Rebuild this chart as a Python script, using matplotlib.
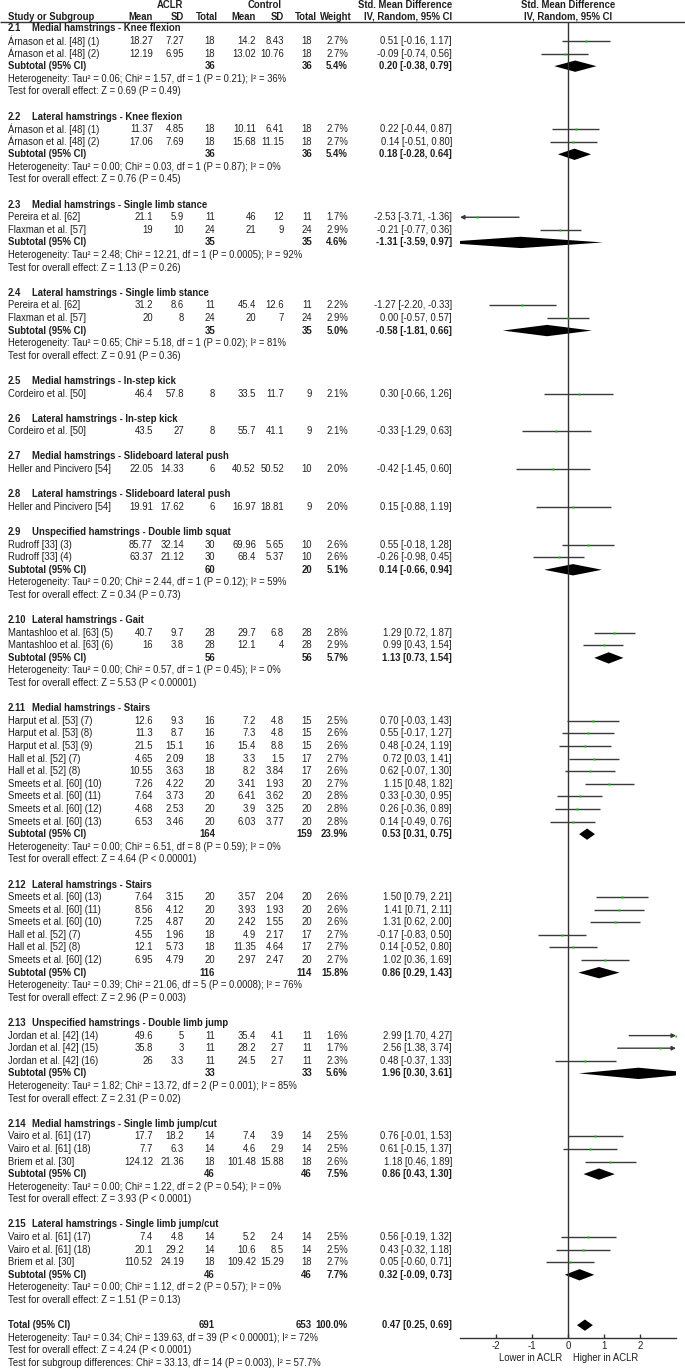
import matplotlib
matplotlib.use("Agg")
import matplotlib.pyplot as plt

plt.rcParams['font.family'] = ['Liberation Sans', 'DejaVu Sans']

# subgroups
group_code = ['2.1', '2.2', '2.3', '2.4', '2.5', '2.6', '2.7', '2.8', '2.9', '2.10',
              '2.11', '2.12', '2.13', '2.14', '2.15']
group_title = ['Medial hamstrings - Knee flexion', 'Lateral hamstrings - Knee flexion',
               'Medial hamstrings - Single limb stance', 'Lateral hamstrings - Single limb stance',
               'Medial hamstrings - In-step kick', 'Lateral hamstrings - In-step kick',
               'Medial hamstrings - Slideboard lateral push', 'Lateral hamstrings - Slideboard lateral push',
               'Unspecified hamstrings - Double limb squat', 'Lateral hamstrings - Gait',
               'Medial hamstrings - Stairs', 'Lateral hamstrings - Stairs',
               'Unspecified hamstrings - Double limb jump', 'Medial hamstrings - Single limb jump/cut',
               'Lateral hamstrings - Single limb jump/cut']

# studies
study_group = [0, 0, 1, 1, 2, 2, 3, 3, 4, 5, 6, 7, 8, 8, 9, 9,
               10, 10, 10, 10, 10, 10, 10, 10, 10,
               11, 11, 11, 11, 11, 11, 12, 12, 12, 13, 13, 13, 14, 14, 14]
study_name = ['Árnason et al. [48] (1)', 'Árnason et al. [48] (2)',
              'Árnason et al. [48] (1)', 'Árnason et al. [48] (2)',
              'Pereira et al. [62]', 'Flaxman et al. [57]',
              'Pereira et al. [62]', 'Flaxman et al. [57]',
              'Cordeiro et al. [50]', 'Cordeiro et al. [50]',
              'Heller and Pincivero [54]', 'Heller and Pincivero [54]',
              'Rudroff [33] (3)', 'Rudroff [33] (4)',
              'Mantashloo et al. [63] (5)', 'Mantashloo et al. [63] (6)',
              'Harput et al. [53] (7)', 'Harput et al. [53] (8)', 'Harput et al. [53] (9)',
              'Hall et al. [52] (7)', 'Hall et al. [52] (8)',
              'Smeets et al. [60] (10)', 'Smeets et al. [60] (11)', 'Smeets et al. [60] (12)',
              'Smeets et al. [60] (13)',
              'Smeets et al. [60] (13)', 'Smeets et al. [60] (11)', 'Smeets et al. [60] (10)',
              'Hall et al. [52] (7)', 'Hall et al. [52] (8)', 'Smeets et al. [60] (12)',
              'Jordan et al. [42] (14)', 'Jordan et al. [42] (15)', 'Jordan et al. [42] (16)',
              'Vairo et al. [61] (17)', 'Vairo et al. [61] (18)', 'Briem et al. [30]',
              'Vairo et al. [61] (17)', 'Vairo et al. [61] (18)', 'Briem et al. [30]']
aclr_mean = ['18.27', '12.19', '11.37', '17.06', '21.1', '19', '31.2', '20', '46.4', '43.5',
             '22.05', '19.91', '85.77', '63.37', '40.7', '16',
             '12.6', '11.3', '21.5', '4.65', '10.55', '7.26', '7.64', '4.68', '6.53',
             '7.64', '8.56', '7.25', '4.55', '12.1', '6.95',
             '49.6', '35.8', '26', '17.7', '7.7', '124.12', '7.4', '20.1', '110.52']
aclr_sd = ['7.27', '6.95', '4.85', '7.69', '5.9', '10', '8.6', '8', '57.8', '27',
           '14.33', '17.62', '32.14', '21.12', '9.7', '3.8',
           '9.3', '8.7', '15.1', '2.09', '3.63', '4.22', '3.73', '2.53', '3.46',
           '3.15', '4.12', '4.87', '1.96', '5.73', '4.79',
           '5', '3', '3.3', '18.2', '6.3', '21.36', '4.8', '29.2', '24.19']
aclr_n = [18, 18, 18, 18, 11, 24, 11, 24, 8, 8, 6, 6, 30, 30, 28, 28,
          16, 16, 16, 18, 18, 20, 20, 20, 20,
          20, 20, 20, 18, 18, 20, 11, 11, 11, 14, 14, 18, 14, 14, 18]
ctrl_mean = ['14.2', '13.02', '10.11', '15.68', '46', '21', '45.4', '20', '33.5', '55.7',
             '40.52', '16.97', '69.96', '68.4', '29.7', '12.1',
             '7.2', '7.3', '15.4', '3.3', '8.2', '3.41', '6.41', '3.9', '6.03',
             '3.57', '3.93', '2.42', '4.9', '11.35', '2.97',
             '35.4', '28.2', '24.5', '7.4', '4.6', '101.48', '5.2', '10.6', '109.42']
ctrl_sd = ['8.43', '10.76', '6.41', '11.15', '12', '9', '12.6', '7', '11.7', '41.1',
           '50.52', '18.81', '5.65', '5.37', '6.8', '4',
           '4.8', '4.8', '8.8', '1.5', '3.84', '1.93', '3.62', '3.25', '3.77',
           '2.04', '1.93', '1.55', '2.17', '4.64', '2.47',
           '4.1', '2.7', '2.7', '3.9', '2.9', '15.88', '2.4', '8.5', '15.29']
ctrl_n = [18, 18, 18, 18, 11, 24, 11, 24, 9, 9, 10, 9, 10, 10, 28, 28,
          15, 15, 15, 17, 17, 20, 20, 20, 20,
          20, 20, 20, 17, 17, 20, 11, 11, 11, 14, 14, 18, 14, 14, 18]
study_weight = [2.7, 2.7, 2.7, 2.7, 1.7, 2.9, 2.2, 2.9, 2.1, 2.1, 2.0, 2.0, 2.6, 2.6, 2.8, 2.9,
                2.5, 2.6, 2.6, 2.7, 2.6, 2.7, 2.8, 2.8, 2.8,
                2.6, 2.6, 2.6, 2.7, 2.7, 2.7, 1.6, 1.7, 2.3, 2.5, 2.5, 2.6, 2.5, 2.5, 2.7]
study_smd = [0.51, -0.09, 0.22, 0.14, -2.53, -0.21, -1.27, 0.00, 0.30, -0.33, -0.42, 0.15,
             0.55, -0.26, 1.29, 0.99,
             0.70, 0.55, 0.48, 0.72, 0.62, 1.15, 0.33, 0.26, 0.14,
             1.50, 1.41, 1.31, -0.17, 0.14, 1.02,
             2.99, 2.56, 0.48, 0.76, 0.61, 1.18, 0.56, 0.43, 0.05]
study_lo = [-0.16, -0.74, -0.44, -0.51, -3.71, -0.77, -2.20, -0.57, -0.66, -1.29, -1.45, -0.88,
            -0.18, -0.98, 0.72, 0.43,
            -0.03, -0.17, -0.24, 0.03, -0.07, 0.48, -0.30, -0.36, -0.49,
            0.79, 0.71, 0.62, -0.83, -0.52, 0.36,
            1.70, 1.38, -0.37, -0.01, -0.15, 0.46, -0.19, -0.32, -0.60]
study_hi = [1.17, 0.56, 0.87, 0.80, -1.36, 0.36, -0.33, 0.57, 1.26, 0.63, 0.60, 1.19,
            1.28, 0.45, 1.87, 1.54,
            1.43, 1.27, 1.19, 1.41, 1.30, 1.82, 0.95, 0.89, 0.76,
            2.21, 2.11, 2.00, 0.50, 0.80, 1.69,
            4.27, 3.74, 1.33, 1.53, 1.37, 1.89, 1.32, 1.18, 0.71]

# subtotals (None where subgroup has a single study)
sub_weight = [5.4, 5.4, 4.6, 5.0, None, None, None, None, 5.1, 5.7, 23.9, 15.8, 5.6, 7.5, 7.7]
sub_smd = [0.20, 0.18, -1.31, -0.58, None, None, None, None, 0.14, 1.13, 0.53, 0.86, 1.96, 0.86, 0.32]
sub_lo = [-0.38, -0.28, -3.59, -1.81, None, None, None, None, -0.66, 0.73, 0.31, 0.29, 0.30, 0.43, -0.09]
sub_hi = [0.79, 0.64, 0.97, 0.66, None, None, None, None, 0.94, 1.54, 0.75, 1.43, 3.61, 1.30, 0.73]
sub_tau2 = ['0.06', '0.00', '2.48', '0.65', None, None, None, None, '0.20', '0.00', '0.00', '0.39', '1.82', '0.00', '0.00']
sub_chi2 = ['1.57', '0.03', '12.21', '5.18', None, None, None, None, '2.44', '0.57', '6.51', '21.06', '13.72', '1.22', '1.12']
sub_df = [1, 1, 1, 1, None, None, None, None, 1, 1, 8, 5, 2, 2, 2]
sub_p = ['0.21', '0.87', '0.0005', '0.02', None, None, None, None, '0.12', '0.45', '0.59', '0.0008', '0.001', '0.54', '0.57']
sub_i2 = [36, 0, 92, 81, None, None, None, None, 59, 0, 0, 76, 85, 0, 0]
sub_z = ['0.69', '0.76', '1.13', '0.91', None, None, None, None, '0.34', '5.53', '4.64', '2.96', '2.31', '3.93', '1.51']
sub_pz = ['= 0.49', '= 0.45', '= 0.26', '= 0.36', None, None, None, None, '= 0.73', '< 0.00001',
          '< 0.00001', '= 0.003', '= 0.02', '< 0.0001', '= 0.13']

# overall
total_smd, total_lo, total_hi = 0.47, 0.25, 0.69
total_het = 'Heterogeneity: Tau² = 0.34; Chi² = 139.63, df = 39 (P < 0.00001); I² = 72%'
total_test = 'Test for overall effect: Z = 4.24 (P < 0.0001)'
subgroup_test = 'Test for subgroup differences: Chi² = 33.13, df = 14 (P = 0.003), I² = 57.7%'

xticks = [-2, -1, 0, 1, 2]

# ---- layout (pixels of a 685x1370 canvas) ----
W, H = 685, 1370
Y0, DY = 28.4, 12.59


def row_of(ypx):
    return (ypx - Y0) / DY


fig = plt.figure(figsize=(W / 100, H / 100), dpi=100)
tab = fig.add_axes([0, 0, 1, 1])
tab.set_xlim(0, W)
tab.set_ylim(row_of(H), row_of(0))
tab.axis('off')

AX_L, AX_R, AX_T, AX_B = 460, 676, 22, 1338
ax = fig.add_axes([AX_L / W, 1 - AX_B / H, (AX_R - AX_L) / W, (AX_B - AX_T) / H])
ax.set_xlim(-3, 3)
ax.set_ylim(row_of(AX_B), row_of(AX_T))
ax.patch.set_alpha(0)
for s in ['top', 'left', 'right']:
    ax.spines[s].set_visible(False)
ax.spines['bottom'].set_color('#333333')
ax.spines['bottom'].set_linewidth(1)
ax.set_yticks([])
ax.set_xticks(xticks)
ax.set_xticklabels([str(t) for t in xticks])
ax.tick_params(axis='x', direction='in', length=3, width=1, color='#333333',
               labelsize=7, pad=2, labelcolor='#222222')
ax.axvline(0, color='#333333', lw=1)

FS = 6.85
TC = '#1e1e1e'
col_name = 8
col_am, col_asd, col_an = 153, 184, 215
col_cm, col_csd, col_cn = 256, 284, 312
col_w, col_ci = 348, 452


def txt(x, r, s, ha='left', bold=False):
    tab.text(x, r, s, ha=ha, va='center', fontsize=FS, color=TC,
             fontweight='bold' if bold else 'normal')


def ci_str(m, lo, hi):
    return '{:.2f} [{:.2f}, {:.2f}]'.format(m, lo, hi)


# header
rh1, rh2 = row_of(5), row_of(16.5)
tab.text(170, rh1, 'ACLR', ha='center', va='center', fontsize=FS, color=TC, fontweight='bold')
tab.text(265, rh1, 'Control', ha='center', va='center', fontsize=FS, color=TC, fontweight='bold')
txt(col_ci, rh1, 'Std. Mean Difference', 'right', True)
tab.text(568, rh1, 'Std. Mean Difference', ha='center', va='center', fontsize=FS, color=TC, fontweight='bold')
txt(col_name, rh2, 'Study or Subgroup', bold=True)
for x, s in [(col_am, 'Mean'), (col_asd, 'SD'), (col_an + 3, 'Total'), (col_cm, 'Mean'),
             (col_csd, 'SD'), (col_cn + 5, 'Total'), (col_w + 4, 'Weight'),
             (col_ci, 'IV, Random, 95% CI')]:
    txt(x, rh2, s, 'right', True)
tab.text(568, rh2, 'IV, Random, 95% CI', ha='center', va='center', fontsize=FS, color=TC, fontweight='bold')
tab.hlines(row_of(22), 0, W, color='#333333', lw=1)

LC = '#3a3a3a'
r = 0
for g in range(len(group_code)):
    txt(col_name, r, group_code[g], bold=True)
    txt(32, r, group_title[g], bold=True)
    r += 1
    idx = [i for i, sg in enumerate(study_group) if sg == g]
    for i in idx:
        txt(col_name, r, study_name[i])
        txt(col_am, r, aclr_mean[i], 'right')
        txt(col_asd, r, aclr_sd[i], 'right')
        txt(col_an, r, str(aclr_n[i]), 'right')
        txt(col_cm, r, ctrl_mean[i], 'right')
        txt(col_csd, r, ctrl_sd[i], 'right')
        txt(col_cn, r, str(ctrl_n[i]), 'right')
        txt(col_w, r, '{:.1f}%'.format(study_weight[i]), 'right')
        txt(col_ci, r, ci_str(study_smd[i], study_lo[i], study_hi[i]), 'right')
        lo, hi = study_lo[i], study_hi[i]
        xmin, xmax = ax.get_xlim()
        if lo < xmin:
            ax.annotate('', xy=(xmin, r), xytext=(hi, r),
                        arrowprops=dict(arrowstyle='-|>', color=LC, lw=1, shrinkA=0, shrinkB=0,
                                        mutation_scale=6))
        elif hi > xmax:
            ax.annotate('', xy=(xmax, r), xytext=(lo, r),
                        arrowprops=dict(arrowstyle='-|>', color=LC, lw=1, shrinkA=0, shrinkB=0,
                                        mutation_scale=6))
        else:
            ax.plot([lo, hi], [r, r], color=LC, lw=1, solid_capstyle='butt')
        ax.plot(study_smd[i], r, marker='s', ms=1.6, color='#00cc00', mec='none', zorder=5)
        r += 1
    if sub_smd[g] is not None:
        txt(col_name, r, 'Subtotal (95% CI)', bold=True)
        txt(col_an, r, str(sum(aclr_n[i] for i in idx)), 'right', True)
        txt(col_cn, r, str(sum(ctrl_n[i] for i in idx)), 'right', True)
        txt(col_w, r, '{:.1f}%'.format(sub_weight[g]), 'right', True)
        txt(col_ci, r, ci_str(sub_smd[g], sub_lo[g], sub_hi[g]), 'right', True)
        h = 0.45
        ax.fill([sub_lo[g], sub_smd[g], sub_hi[g], sub_smd[g]], [r, r - h, r, r + h],
                color='black', lw=0)
        txt(col_name, r + 1, 'Heterogeneity: Tau² = {}; Chi² = {}, df = {} (P = {}); I² = {}%'.format(
            sub_tau2[g], sub_chi2[g], sub_df[g], sub_p[g], sub_i2[g]))
        txt(col_name, r + 2, 'Test for overall effect: Z = {} (P {})'.format(sub_z[g], sub_pz[g]))
        r += 3
    r += 1

# overall total
txt(col_name, r, 'Total (95% CI)', bold=True)
txt(col_an, r, str(sum(aclr_n)), 'right', True)
txt(col_cn, r, str(sum(ctrl_n)), 'right', True)
txt(col_w, r, '100.0%', 'right', True)
txt(col_ci, r, ci_str(total_smd, total_lo, total_hi), 'right', True)
ax.fill([total_lo, total_smd, total_hi, total_smd], [r, r - 0.45, r, r + 0.45], color='black', lw=0)
txt(col_name, r + 1, total_het)
txt(col_name, r + 2, total_test)
txt(col_name, r + 3, subgroup_test)

ry = row_of(1357.5)
ax.text(-0.15, ry, 'Lower in ACLR', ha='right', va='center', fontsize=FS, color=TC, clip_on=False)
ax.text(0.15, ry, 'Higher in ACLR', ha='left', va='center', fontsize=FS, color=TC, clip_on=False)

fig.savefig('out.png', dpi=100)
